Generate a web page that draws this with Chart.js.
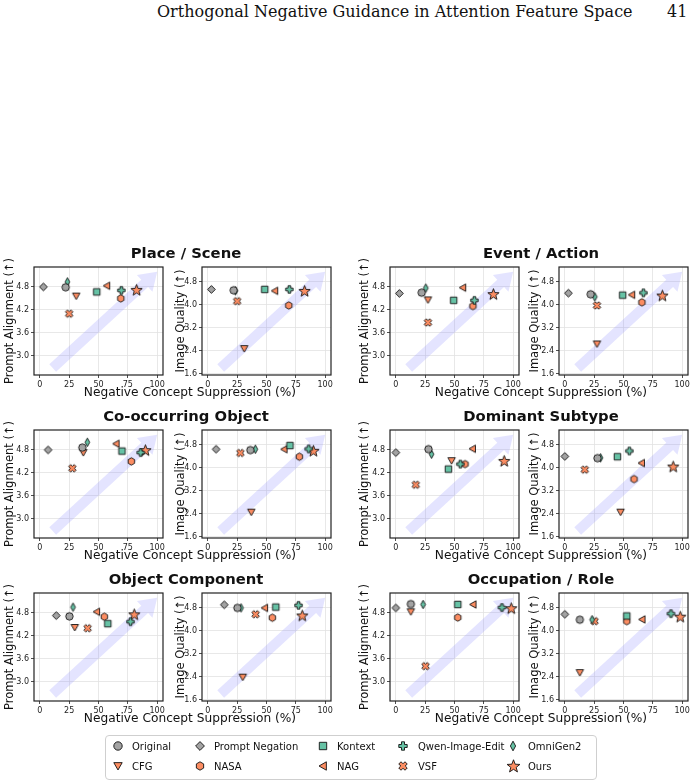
<!DOCTYPE html>
<html>
<head>
<meta charset="utf-8">
<script src="https://cdn.jsdelivr.net/npm/chart.js@4/dist/chart.umd.min.js"></script>
<style>
  body { margin:0; width:700px; height:781px; position:relative; background:#fff; overflow:hidden; font-family:"DejaVu Sans", sans-serif; color:#111; }
  .abs { position:absolute; white-space:nowrap; }
  .ctr { transform:translate(-50%,-50%); }
  .ttl { font-weight:bold; font-size:14.8px; }
  .xl { font-size:12.2px; }
  .lg { font-size:10px; transform:translateY(-50%); }
</style>
</head>
<body>
<div class="abs" style="left:157px;top:2px;font-family:'DejaVu Serif',serif;font-size:16px;">Orthogonal Negative Guidance in Attention Feature Space</div>
<div class="abs" style="left:667px;top:2px;font-family:'DejaVu Serif',serif;font-size:16px;">41</div>
<div id="root"></div>
<script>
// methods, in plotting order
const methods = ['Original', 'Prompt Negation', 'Kontext', 'Qwen-Image-Edit', 'OmniGen2', 'CFG', 'NASA', 'NAG', 'VSF', 'Ours'];
const categories = ['Place / Scene', 'Event / Action', 'Co-occurring Object', 'Dominant Subtype', 'Object Component', 'Occupation / Role'];

// negative concept suppression (%) per category
const supPlace = [22, 3, 48.5, 69.5, 23.5, 31, 69, 57, 25, 82.5];
const supEvent = [22, 3, 49.3, 67, 25.5, 27.4, 65.7, 57, 27.4, 83.2];
const supCooc = [36.2, 7, 70, 86, 40.5, 37, 78, 65, 27.7, 90];
const supDominant = [27.8, 0, 44.8, 55, 30.4, 47.5, 59, 65.3, 17, 92.4];
const supComponent = [25.2, 14, 57.9, 77.3, 28.3, 29.8, 55, 48.4, 40.7, 80.5];
const supOccupation = [12.8, 0, 52.8, 90.5, 23.2, 12.8, 52.8, 65.8, 25.3, 98.4];

// prompt alignment per category
const paPlace = [4.79, 4.8, 4.67, 4.71, 4.93, 4.56, 4.5, 4.83, 4.1, 4.71];
const paEvent = [4.65, 4.63, 4.45, 4.45, 4.77, 4.46, 4.3, 4.78, 3.87, 4.6];
const paCooc = [4.86, 4.8, 4.77, 4.73, 5.0, 4.73, 4.5, 4.96, 4.32, 4.78];
const paDominant = [4.82, 4.73, 4.3, 4.43, 4.69, 4.52, 4.43, 4.83, 3.89, 4.5];
const paComponent = [4.71, 4.73, 4.52, 4.57, 4.95, 4.42, 4.7, 4.83, 4.4, 4.75];
const paOccupation = [5.03, 4.93, 5.02, 4.94, 5.02, 4.83, 4.68, 5.02, 3.41, 4.91];

// image quality per category
const iqPlace = [4.5, 4.53, 4.53, 4.53, 4.48, 2.47, 3.97, 4.48, 4.12, 4.46];
const iqEvent = [4.36, 4.4, 4.33, 4.41, 4.27, 2.63, 4.08, 4.34, 3.97, 4.3];
const iqCooc = [4.61, 4.64, 4.77, 4.65, 4.64, 2.45, 4.38, 4.64, 4.51, 4.57];
const iqDominant = [4.33, 4.39, 4.38, 4.58, 4.34, 2.45, 3.6, 4.16, 3.93, 4.02];
const iqComponent = [4.79, 4.9, 4.82, 4.88, 4.79, 2.38, 4.45, 4.79, 4.57, 4.51];
const iqOccupation = [4.38, 4.57, 4.51, 4.59, 4.38, 2.54, 4.33, 4.39, 4.33, 4.47];

const xTicks = [0, 25, 50, 75, 100];
const paTicks = [3.0, 3.6, 4.2, 4.8];
const iqTicks = [1.6, 2.4, 3.2, 4.0, 4.8];

const sups = [supPlace, supEvent, supCooc, supDominant, supComponent, supOccupation];
const pas = [paPlace, paEvent, paCooc, paDominant, paComponent, paOccupation];
const iqs = [iqPlace, iqEvent, iqCooc, iqDominant, iqComponent, iqOccupation];

const GRAY = '#a3a3a3', TEAL = '#66c2a5', ORANGE = '#fc8d62';
const styles = [
  ['circle', GRAY], ['diamond', GRAY], ['square', TEAL], ['plus', TEAL], ['thin', TEAL],
  ['down', ORANGE], ['hex', ORANGE], ['left', ORANGE], ['x', ORANGE], ['star', ORANGE]
];

function makeMarker(shape, color, r) {
  const R = shape === 'star' ? r * 1.6 : r;
  const size = Math.ceil(2 * R + 3);
  const c = document.createElement('canvas');
  c.width = size; c.height = size;
  const g = c.getContext('2d');
  g.translate(size / 2, size / 2);
  g.beginPath();
  const poly = pts => { pts.forEach((p, i) => i ? g.lineTo(p[0], p[1]) : g.moveTo(p[0], p[1])); g.closePath(); };
  if (shape === 'circle') g.arc(0, 0, r, 0, Math.PI * 2);
  else if (shape === 'diamond') poly([[0, -r * 1.05], [r * 1.05, 0], [0, r * 1.05], [-r * 1.05, 0]]);
  else if (shape === 'thin') poly([[0, -r * 1.15], [r * 0.62, 0], [0, r * 1.15], [-r * 0.62, 0]]);
  else if (shape === 'square') poly([[-r * 0.88, -r * 0.88], [r * 0.88, -r * 0.88], [r * 0.88, r * 0.88], [-r * 0.88, r * 0.88]]);
  else if (shape === 'down') poly([[-r, -r * 0.8], [r, -r * 0.8], [0, r * 0.95]]);
  else if (shape === 'left') poly([[-r * 0.95, 0], [r * 0.8, -r], [r * 0.8, r]]);
  else if (shape === 'hex') { const p = []; for (let k = 0; k < 6; k++) { const a = -Math.PI / 2 + k * Math.PI / 3; p.push([r * Math.cos(a), r * Math.sin(a)]); } poly(p); }
  else if (shape === 'plus' || shape === 'x') {
    const a = r, b = r * 0.36;
    let p = [[-b, -a], [b, -a], [b, -b], [a, -b], [a, b], [b, b], [b, a], [-b, a], [-b, b], [-a, b], [-a, -b], [-b, -b]];
    if (shape === 'x') { const cs = Math.SQRT1_2; p = p.map(q => [(q[0] - q[1]) * cs * 1.05, (q[0] + q[1]) * cs * 1.05]); }
    poly(p);
  } else if (shape === 'star') {
    const p = [];
    for (let k = 0; k < 10; k++) { const a = -Math.PI / 2 + k * Math.PI / 5; const rr = k % 2 ? R * 0.42 : R; p.push([rr * Math.cos(a), rr * Math.sin(a)]); }
    poly(p);
  }
  g.fillStyle = color; g.fill();
  g.lineWidth = 0.9; g.strokeStyle = '#111'; g.stroke();
  return c;
}

const markers = styles.map(s => makeMarker(s[0], s[1], 3.7));
const legendMarkers = styles.map(s => makeMarker(s[0], s[1], 4.2));

// arrow behind the points + frame on top
const decor = {
  id: 'decor',
  beforeDatasetsDraw(chart) {
    const { ctx, chartArea: a } = chart;
    const w = a.right - a.left, h = a.bottom - a.top;
    const x0 = a.left + 0.145 * w, y0 = a.top + 0.935 * h;
    const x1 = a.left + 0.955 * w, y1 = a.top + 0.045 * h;
    const L = Math.hypot(x1 - x0, y1 - y0);
    const ux = (x1 - x0) / L, uy = (y1 - y0) / L, nx = -uy, ny = ux;
    const sw = 5, hw = 11.5, hl = 17;
    const bx = x1 - ux * hl, by = y1 - uy * hl;
    ctx.save();
    ctx.beginPath();
    ctx.moveTo(x0 + nx * sw, y0 + ny * sw);
    ctx.lineTo(bx + nx * sw, by + ny * sw);
    ctx.lineTo(bx + nx * hw, by + ny * hw);
    ctx.lineTo(x1, y1);
    ctx.lineTo(bx - nx * hw, by - ny * hw);
    ctx.lineTo(bx - nx * sw, by - ny * sw);
    ctx.lineTo(x0 - nx * sw, y0 - ny * sw);
    ctx.closePath();
    ctx.fillStyle = 'rgba(120,120,255,0.2)';
    ctx.fill();
    ctx.restore();
  },
  afterDatasetsDraw(chart) {
    const { ctx, chartArea: a } = chart;
    ctx.save();
    ctx.strokeStyle = '#222';
    ctx.lineWidth = 1.2;
    ctx.strokeRect(a.left, a.top, a.right - a.left, a.bottom - a.top);
    ctx.restore();
  }
};

Chart.defaults.font.family = "'DejaVu Sans', sans-serif";

const cols = [{ left: 34, axisW: 34 }, { left: 202, axisW: 31 }, { left: 390, axisW: 35 }, { left: 559, axisW: 34 }];
const rowTops = [267, 430, 593];
const chartW = 133, chartH = 108, xAxisH = 17, padTop = 14;
const root = document.getElementById('root');

function addText(cls, text, x, y) {
  const d = document.createElement('div');
  d.className = 'abs ' + cls;
  d.style.left = x + 'px'; d.style.top = y + 'px';
  d.textContent = text;
  document.body.appendChild(d);
}

function makePlot(col, rowTop, xs, ys, yTitle, yMin, yMax, yTicks) {
  const c = cols[col];
  const W = c.axisW + chartW + 2, H = padTop + chartH + xAxisH;
  const div = document.createElement('div');
  div.className = 'abs';
  div.style.left = (c.left - c.axisW) + 'px';
  div.style.top = (rowTop - padTop) + 'px';
  const cv = document.createElement('canvas');
  cv.width = W; cv.height = H;
  cv.style.width = W + 'px'; cv.style.height = H + 'px';
  div.appendChild(cv);
  root.appendChild(div);

  const datasets = methods.map((m, i) => ({
    label: m,
    data: [{ x: xs[i], y: ys[i] }],
    pointStyle: markers[i],
    pointRadius: 5
  }));

  new Chart(cv, {
    type: 'scatter',
    data: { datasets },
    options: {
      responsive: false,
      animation: false,
      devicePixelRatio: 1,
      events: [],
      layout: { padding: { top: padTop, right: 2, left: 0, bottom: 0 } },
      plugins: { legend: { display: false }, tooltip: { enabled: false } },
      scales: {
        x: {
          type: 'linear', min: -5, max: 105,
          afterBuildTicks: s => { s.ticks = xTicks.map(v => ({ value: v })); },
          afterFit: s => { s.height = xAxisH; },
          grid: { color: '#e2e2e2', lineWidth: 0.8, tickLength: 3, tickColor: '#222' },
          border: { display: false },
          ticks: { font: { size: 8 }, color: '#222', padding: 2, maxRotation: 0 }
        },
        y: {
          type: 'linear', min: yMin, max: yMax,
          afterBuildTicks: s => { s.ticks = yTicks.map(v => ({ value: v })); },
          afterFit: s => { s.width = c.axisW; },
          grid: { color: '#e2e2e2', lineWidth: 0.8, tickLength: 3, tickColor: '#222' },
          border: { display: false },
          ticks: { font: { size: 8 }, color: '#222', padding: 2, callback: v => v.toFixed(1) },
          title: { display: true, text: yTitle, font: { size: 11.5 }, color: '#111', padding: { top: 3, bottom: 0 } }
        }
      }
    },
    plugins: [decor]
  });
}

categories.forEach((cat, k) => {
  const row = Math.floor(k / 2), pair = k % 2;
  const rowTop = rowTops[row];
  makePlot(pair * 2, rowTop, sups[k], pas[k], 'Prompt Alignment (\u2191)', 2.5, 5.32, paTicks);
  makePlot(pair * 2 + 1, rowTop, sups[k], iqs[k], 'Image Quality (\u2191)', 1.55, 5.31, iqTicks);
  const cx = pair ? 541 : 186;
  addText('ctr ttl', cat, cx, rowTop - 15);
  addText('ctr xl', 'Negative Concept Suppression (%)', pair ? 541 : 190, rowTop + 125);
});

// legend
const lg = document.createElement('div');
lg.className = 'abs';
lg.style.cssText += 'left:105px;top:735px;width:490px;height:43px;border:1px solid #cfcfcf;border-radius:4px;';
document.body.appendChild(lg);
const lgMarkX = [118, 200, 323, 403, 513];
const lgTextX = [132, 214, 337, 418, 528];
const lgRowY = [746, 766];
methods.forEach((m, i) => {
  const r = Math.floor(i / 5), col = i % 5;
  const mk = legendMarkers[i];
  mk.className = 'abs';
  mk.style.left = (lgMarkX[col] - mk.width / 2) + 'px';
  mk.style.top = (lgRowY[r] - mk.height / 2) + 'px';
  document.body.appendChild(mk);
  addText('lg', m, lgTextX[col], lgRowY[r]);
});
</script>
</body>
</html>
